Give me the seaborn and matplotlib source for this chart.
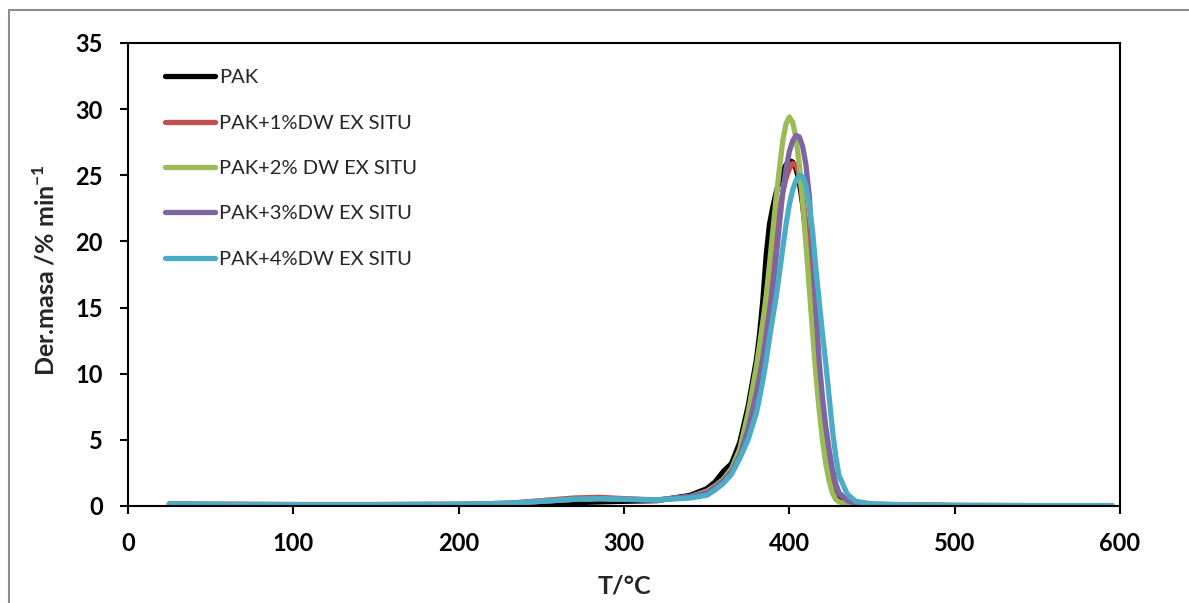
import matplotlib
matplotlib.use("Agg")
import matplotlib.pyplot as plt
import pandas as pd
import seaborn as sns
import numpy as np

# Temperature grid (deg C)
temp = [25, 50, 100, 150, 200, 230, 250, 270, 285, 300, 320, 340, 350, 355, 360, 365, 370, 375,
        380, 382, 384, 386, 388, 390, 392, 394, 396, 398, 400, 402, 404, 406, 408, 410, 412,
        414, 416, 418, 420, 422, 424, 426, 428, 430,
        435, 440, 450, 470, 500, 550, 595]

# Derivative mass loss (% / min) for each sample
pak = [0.10, 0.08, 0.06, 0.05, 0.05, 0.05, 0.10, 0.25, 0.30, 0.35, 0.40, 0.80, 1.30, 1.80, 2.60, 3.20, 4.80, 7.50,
       11.0, 13.0, 15.6, 19.0, 21.3, 22.6, 23.7, 24.6, 25.3, 25.8, 26.1, 26.0, 25.5, 24.5, 22.8, 20.5, 17.8,
       14.8, 12.0, 9.2, 6.9, 5.0, 3.4, 2.2, 1.3, 0.8,
       0.30, 0.15, 0.08, 0.05, 0.02, 0.01, 0.01]
pak_1 = [0.15, 0.12, 0.10, 0.10, 0.12, 0.20, 0.40, 0.60, 0.65, 0.55, 0.45, 0.70, 1.10, 1.50, 2.00, 2.80, 4.20, 6.50,
         9.5, 11.2, 13.0, 15.0, 17.0, 19.0, 20.8, 22.4, 23.7, 24.8, 25.5, 25.9, 25.8, 25.0, 23.5, 21.3, 18.5,
         15.5, 12.5, 9.6, 7.2, 5.2, 3.6, 2.4, 1.5, 0.9,
         0.40, 0.20, 0.12, 0.08, 0.03, 0.02, 0.02]
pak_2 = [0.15, 0.12, 0.10, 0.10, 0.12, 0.20, 0.35, 0.50, 0.55, 0.50, 0.45, 0.70, 1.10, 1.50, 2.00, 2.80, 4.30, 7.00,
         10.5, 12.2, 14.0, 15.9, 18.3, 20.8, 23.3, 25.5, 27.6, 28.9, 29.4, 29.0, 27.8, 25.8, 23.0, 19.8, 16.5,
         13.2, 10.0, 7.3, 5.0, 3.2, 1.9, 1.0, 0.5, 0.3,
         0.15, 0.10, 0.08, 0.05, 0.02, 0.02, 0.02]
pak_3 = [0.15, 0.12, 0.10, 0.10, 0.12, 0.20, 0.35, 0.50, 0.55, 0.50, 0.45, 0.70, 1.00, 1.40, 1.90, 2.60, 3.80, 5.80,
         8.5, 9.8, 11.2, 12.8, 14.6, 16.5, 18.8, 21.3, 23.7, 25.5, 26.8, 27.6, 28.0, 27.9, 27.2, 25.8, 23.5,
         19.5, 15.0, 11.0, 8.2, 6.0, 4.3, 2.8, 1.7, 1.0,
         0.40, 0.20, 0.12, 0.08, 0.03, 0.02, 0.02]
pak_4 = [0.15, 0.12, 0.10, 0.10, 0.12, 0.20, 0.35, 0.50, 0.55, 0.50, 0.45, 0.60, 0.80, 1.20, 1.70, 2.40, 3.60, 5.00,
         7.0, 8.2, 9.5, 11.0, 12.7, 14.3, 15.8, 17.6, 19.5, 21.3, 22.8, 23.9, 24.6, 25.0, 24.9, 24.2, 22.8,
         20.8, 18.0, 15.5, 13.0, 10.8, 8.3, 5.8, 3.8, 2.3,
         0.90, 0.35, 0.15, 0.10, 0.05, 0.03, 0.03]

labels = ["PAK", "PAK+1%DW EX SITU", "PAK+2% DW EX SITU", "PAK+3%DW EX SITU", "PAK+4%DW EX SITU"]
colors = ["#000000", "#C0504D", "#9BBB59", "#8064A2", "#4BACC6"]

frames = []
for lab, vals in zip(labels, [pak, pak_1, pak_2, pak_3, pak_4]):
    frames.append(pd.DataFrame({"T": temp, "der": vals, "sample": lab}))
data = pd.concat(frames, ignore_index=True)

sns.set_theme(style="white")
plt.rcParams["font.family"] = ["Lato", "DejaVu Sans"]
plt.rcParams["mathtext.fontset"] = "custom"
plt.rcParams["mathtext.rm"] = "Lato"
plt.rcParams["mathtext.bf"] = "Lato:bold"

fig = plt.figure(figsize=(11.89, 6.03), dpi=100)
ax = fig.add_axes([0.1077, 0.161, 0.8343, 0.7677])

sns.lineplot(data=data, x="T", y="der", hue="sample", hue_order=labels,
             palette=colors, linewidth=3.8, ax=ax, sort=True)

ax.set_xlim(0, 600)
ax.set_ylim(0, 35)
ax.set_xticks(range(0, 601, 100))
ax.set_yticks(range(0, 36, 5))
ax.tick_params(axis="both", direction="out", length=6, width=1.5, colors="black",
               labelsize=17, bottom=True, left=True)
ax.tick_params(axis="x", pad=13)
ax.tick_params(axis="y", pad=12)
for t in ax.get_xticklabels() + ax.get_yticklabels():
    t.set_fontweight("bold")
for s in ax.spines.values():
    s.set_color("black")
    s.set_linewidth(1.5)

ax.set_xlabel("T/°C", fontsize=18, fontweight="bold")
ax.set_ylabel("Der.masa /% min$^{\\mathbf{-1}}$", fontsize=18, fontweight="bold")
ax.xaxis.set_label_coords(0.5, -0.148)
ax.yaxis.set_label_coords(-0.0706, 0.51)

ax.legend(loc="upper left", bbox_to_anchor=(0.037, 0.943), frameon=False, fontsize=14.5,
          handlelength=2.5, handletextpad=0.2, labelspacing=1.4, borderpad=0, borderaxespad=0)

# chart-area border (grey frame)
fig.add_artist(plt.Line2D([9 / 1189, 1], [1 - 10 / 603, 1 - 10 / 603], color="#8c8c8c", lw=1.5))
fig.add_artist(plt.Line2D([9 / 1189, 9 / 1189], [0, 1 - 10 / 603], color="#8c8c8c", lw=1.5))

fig.savefig("out.png", dpi=100)
